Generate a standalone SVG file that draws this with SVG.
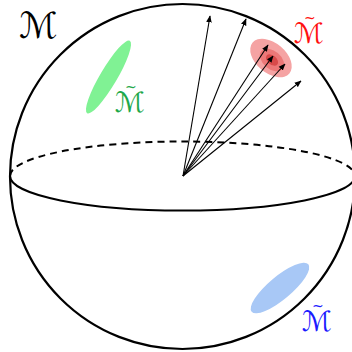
<svg xmlns="http://www.w3.org/2000/svg" width="352" height="352" viewBox="0 0 352 352">
<defs>
<style>
.ln{fill:none;stroke:#000;}
.arr{stroke:#000;stroke-width:1.1;fill:none;marker-end:url(#ah);}
.cal{font-family:"DejaVu Serif","DejaVu Sans",serif;font-style:italic;}
.til{font-family:"DejaVu Sans",sans-serif;font-style:normal;font-size:14px;}
</style>
<marker id="ah" viewBox="0 0 10 10" refX="9" refY="5" markerWidth="7" markerHeight="7" markerUnits="userSpaceOnUse" orient="auto">
<path d="M0,1 L10,5 L0,9 Z" fill="#000"/>
</marker>
</defs>
<rect width="352" height="352" fill="#fff"/>
<g id="sphere">
<circle cx="182.5" cy="176.5" r="172.5" class="ln" stroke-width="2.2"/>
<path d="M10,176 A172.5,34.5 0 0 0 355,176" class="ln" stroke-width="2"/>
<path d="M10,176 A172.5,34.5 0 0 1 355,176" class="ln" stroke-width="2" stroke-dasharray="7,5"/>
</g>
<g id="green-region">
<ellipse cx="108.5" cy="77" rx="42" ry="8.5" transform="rotate(-59.5 108.5 77)" fill="#80f294"/>
</g>
<g id="blue-region">
<ellipse cx="280" cy="288" rx="37" ry="11.5" transform="rotate(-40 280 288)" fill="#a8c8f6"/>
</g>
<g id="red-region">
<ellipse cx="271" cy="58" rx="24" ry="15" transform="rotate(40 271 58)" fill="#f5a3a3"/>
<ellipse cx="272" cy="60" rx="14" ry="9" transform="rotate(40 272 60)" fill="#ec7878"/>
<ellipse cx="272" cy="60" rx="7" ry="4.5" transform="rotate(40 272 60)" fill="#d84a4a"/>
</g>
<g id="connectors">
<line x1="183" y1="176" x2="210" y2="16" class="arr"/>
<line x1="183" y1="176" x2="246" y2="19" class="arr"/>
<line x1="183" y1="176" x2="268" y2="45" class="arr"/>
<line x1="183" y1="176" x2="273" y2="56" class="arr"/>
<line x1="183" y1="176" x2="285" y2="64" class="arr"/>
<line x1="183" y1="176" x2="301" y2="81" class="arr"/>
</g>
<g id="labels">
<text x="19" y="38" class="cal" font-size="36" fill="#000">ℳ</text>
<text x="294" y="43" class="cal" font-size="28" fill="#ff1010">ℳ<tspan class="til" dx="-20" dy="-20">~</tspan></text>
<text x="115" y="112" class="cal" font-size="28" fill="#1ea84a">ℳ<tspan class="til" dx="-20" dy="-20">~</tspan></text>
<text x="302" y="331" class="cal" font-size="28" fill="#1a1aff">ℳ<tspan class="til" dx="-20" dy="-20">~</tspan></text>
</g>
</svg>
